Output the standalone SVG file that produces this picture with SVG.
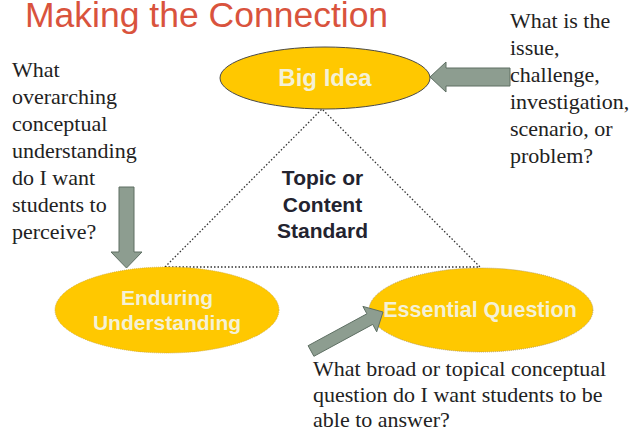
<svg xmlns="http://www.w3.org/2000/svg" width="634" height="432" viewBox="0 0 634 432">
<style>
.bg{fill:#ffffff}
.title{font-family:"Liberation Sans",Arial,sans-serif;font-size:35.5px;fill:#D9533D}
.q{font-family:"Liberation Serif","Times New Roman",serif;font-size:22px;fill:#222222}
.node{fill:#FFC800}
.nt{font-family:"Liberation Sans",Arial,sans-serif;font-weight:bold;fill:#F4F1D6;text-anchor:middle}
.topic{font-family:"Liberation Sans",Arial,sans-serif;font-weight:bold;font-size:21px;fill:#23232F;text-anchor:middle}
.tri{fill:none;stroke:#333333;stroke-width:1.3;stroke-dasharray:1.5 2}
.arrow{fill:#8D9D90;stroke:#5E6F63;stroke-width:1}
</style>
<rect class="bg" x="0" y="0" width="634" height="432"/>
<text class="title" x="25" y="27">Making the Connection</text>

<g id="connectors">
  <polyline class="tri" points="165,267 322,109 480,267"/>
  <line class="tri" x1="165" y1="267" x2="480" y2="267"/>
</g>

<g id="big-idea">
  <ellipse class="node" cx="325" cy="78" rx="105" ry="31" stroke="#4a4a4a" stroke-width="1"/>
  <text class="nt" x="325" y="86" font-size="24">Big Idea</text>
</g>

<g id="enduring-understanding">
  <ellipse class="node" cx="167" cy="310" rx="112" ry="43" stroke="#C9A640" stroke-width="0.8" stroke-dasharray="1 1"/>
  <text class="nt" x="167" y="305" font-size="21">Enduring</text>
  <text class="nt" x="167" y="330" font-size="21">Understanding</text>
</g>

<g id="essential-question">
  <ellipse class="node" cx="481" cy="310" rx="112" ry="42" stroke="#A89060" stroke-width="0.8" stroke-dasharray="1 1"/>
  <text class="nt" x="480" y="317" font-size="21.5">Essential Question</text>
</g>

<g id="topic">
  <text class="topic" x="322.5" y="185">Topic or</text>
  <text class="topic" x="322.5" y="212">Content</text>
  <text class="topic" x="322.5" y="238">Standard</text>
</g>

<g id="arrows">
  <polygon class="arrow" points="430,77 446,62 446,68 510,68 510,86 446,86 446,92"/>
  <polygon class="arrow" points="119,187 134,187 134,252 142,252 126.5,268 111,252 119,252"/>
  <polygon class="arrow" points="383,312 362.9,306.4 366.9,313.8 308.1,345.7 313.9,356.3 372.7,324.4 376.7,331.8"/>
</g>

<g id="left-question">
  <text class="q" x="12" y="77">What</text>
  <text class="q" x="12" y="104">overarching</text>
  <text class="q" x="12" y="131">conceptual</text>
  <text class="q" x="12" y="158">understanding</text>
  <text class="q" x="12" y="185">do I want</text>
  <text class="q" x="12" y="212">students to</text>
  <text class="q" x="12" y="239">perceive?</text>
</g>

<g id="right-question">
  <text class="q" x="510" y="28">What is the</text>
  <text class="q" x="510" y="55">issue,</text>
  <text class="q" x="510" y="82">challenge,</text>
  <text class="q" x="510" y="109">investigation,</text>
  <text class="q" x="510" y="136">scenario, or</text>
  <text class="q" x="510" y="163">problem?</text>
</g>

<g id="bottom-question">
  <text class="q" x="313" y="376">What broad or topical conceptual</text>
  <text class="q" x="313" y="401.5">question do I want students to be</text>
  <text class="q" x="313" y="426.5">able to answer?</text>
</g>
</svg>
